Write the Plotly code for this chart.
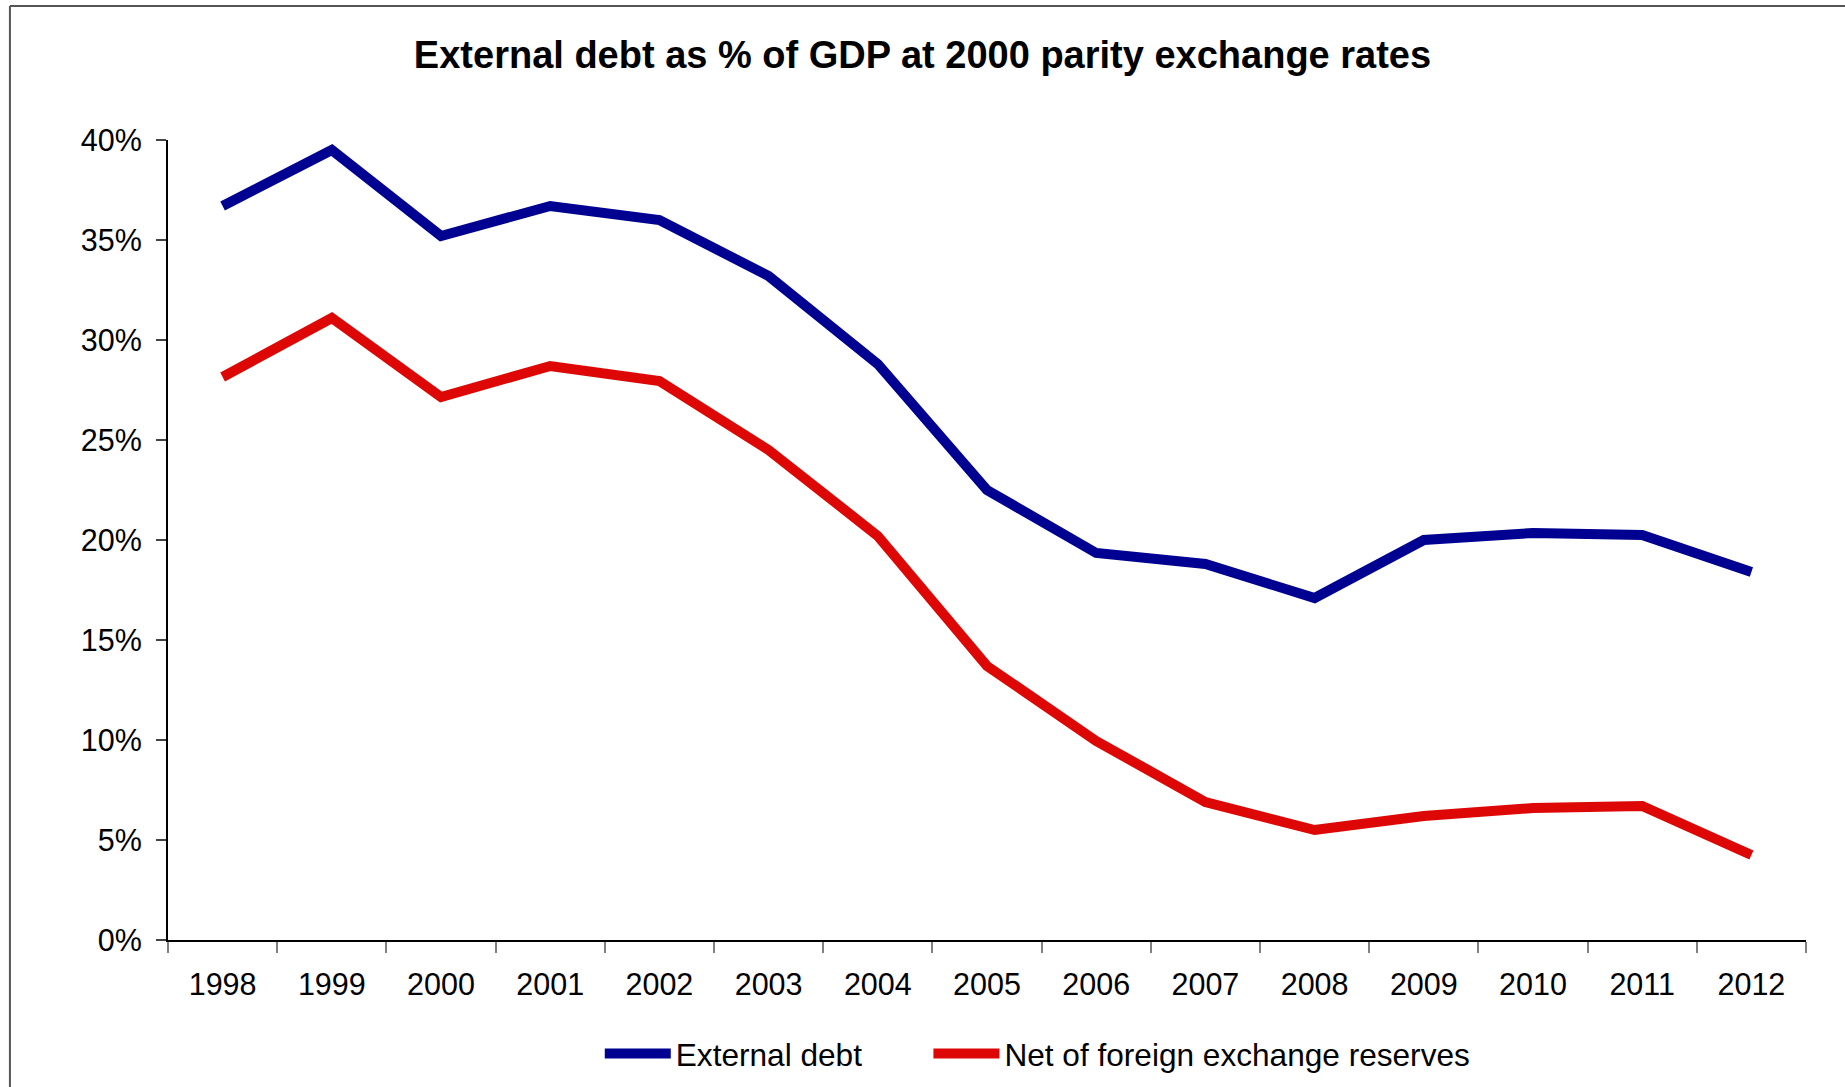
import plotly.graph_objects as go

years = ["1998", "1999", "2000", "2001", "2002", "2003", "2004", "2005",
         "2006", "2007", "2008", "2009", "2010", "2011", "2012"]
external_debt = [36.7, 39.5, 35.2, 36.7, 36.0, 33.2, 28.8, 22.5,
                 19.35, 18.8, 17.1, 20.0, 20.35, 20.25, 18.4]
net_of_reserves = [28.15, 31.1, 27.15, 28.7, 27.95, 24.5, 20.2, 13.7,
                   9.95, 6.9, 5.5, 6.2, 6.6, 6.7, 4.25]
y_ticks = [0, 5, 10, 15, 20, 25, 30, 35, 40]
y_tick_labels = [f"{v}%" for v in y_ticks]
series_names = ["External debt", "Net of foreign exchange reserves"]

FONT = "Liberation Sans, Arial, sans-serif"
NBSP = "\u00a0"

fig = go.Figure()
fig.add_trace(go.Scatter(x=years, y=external_debt, mode="lines",
                         name=series_names[0] + NBSP * 7,
                         line=dict(color="#000091", width=10)))
fig.add_trace(go.Scatter(x=years, y=net_of_reserves, mode="lines",
                         name=series_names[1],
                         line=dict(color="#DD0806", width=10)))

fig.update_layout(
    width=1845, height=1087,
    margin=dict(l=168, r=39, t=140, b=147, autoexpand=False),
    paper_bgcolor="white", plot_bgcolor="white",
    font=dict(family=FONT, size=30.5, color="black"),
    title=dict(text="<b>External debt as % of GDP at 2000 parity exchange rates</b>",
               x=0.5, xanchor="center", y=1 - 55 / 1087, yanchor="middle",
               font=dict(family=FONT, size=38, color="black")),
    showlegend=True,
    legend=dict(orientation="h", x=0.531, xanchor="center", y=-0.1425, yanchor="middle",
                font=dict(family=FONT, size=31.6, color="black"),
                bgcolor="rgba(0,0,0,0)", itemwidth=66, tracegroupgap=0),
    xaxis=dict(type="category", range=[-0.5, len(years) - 0.5],
               showgrid=False, zeroline=False,
               showline=True, linecolor="black", linewidth=2,
               ticks="outside", tickson="boundaries", ticklen=11,
               tickcolor="#808080", tickwidth=2,
               tickfont=dict(family=FONT, size=30.5, color="black"),
               ticklabelstandoff=16),
    yaxis=dict(range=[0, 40], tickvals=y_ticks, ticktext=y_tick_labels,
               showgrid=False, zeroline=False, showline=True, linecolor="black",
               linewidth=2, ticks="outside", ticklen=10, tickcolor="#444", tickwidth=2,
               tickfont=dict(family=FONT, size=30.5, color="black"),
               ticklabelstandoff=8),
    shapes=[
        dict(type="line", xref="paper", yref="paper", x0=-0.0965, x1=-0.0965,
             y0=-0.3, y1=1.1675, line=dict(color="#555555", width=2)),
        dict(type="line", xref="paper", yref="paper", x0=-0.0965, x1=1.1,
             y0=1.1675, y1=1.1675, line=dict(color="#555555", width=2)),
    ],
)

fig.write_html("out.html", config={"displayModeBar": False})
